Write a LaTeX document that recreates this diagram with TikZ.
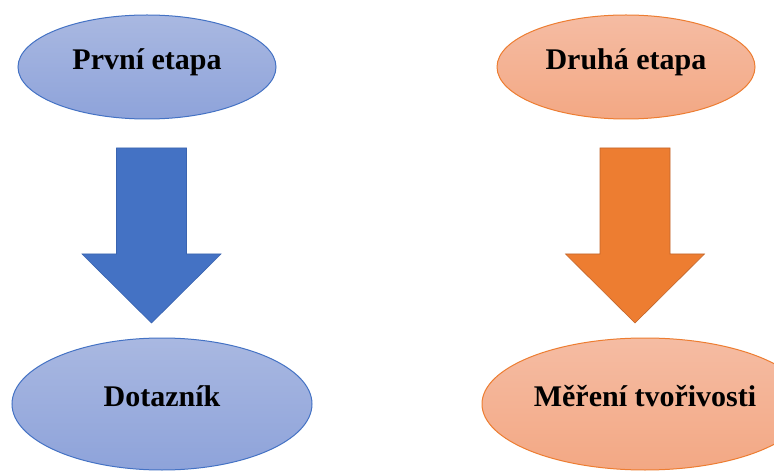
\documentclass[tikz,border=0pt]{standalone}
\usepackage{fontspec}
\setmainfont{Liberation Serif}
\usetikzlibrary{shapes.geometric}
\definecolor{bluefill}{HTML}{4472C4}
\definecolor{blueline}{HTML}{3A64B0}
\definecolor{bluetop}{HTML}{A9B8E1}
\definecolor{bluebot}{HTML}{8EA3DA}
\definecolor{orfill}{HTML}{ED7D31}
\definecolor{orline}{HTML}{C2652A}
\definecolor{ortop}{HTML}{F5BCA3}
\definecolor{orbot}{HTML}{F3A884}
\tikzset{
  stage/.style={ellipse, inner sep=0pt, line width=1pt,
    font=\fontsize{30}{34}\selectfont\bfseries,
    text height=0.7em, text depth=0.22em},
  bluestage/.style={stage, draw=bluefill, top color=bluetop, bottom color=bluebot},
  orstage/.style={stage, draw=orfill, top color=ortop, bottom color=orbot},
  blockarrow/.pic={
    \path[pic actions] (-35,0) -- (35,0) -- (35,106) -- (69.5,106) -- (0,175)
      -- (-69.5,106) -- (-35,106) -- cycle;
  }
}
\begin{document}
\begin{tikzpicture}[x=1pt,y=-1pt]
\useasboundingbox (0,0) rectangle (774,473);
\clip (0,0) rectangle (774,473);
\fill[white] (0,0) rectangle (774,473);

\node[bluestage, minimum width=258pt, minimum height=104pt] (e1) at (147,67) {První etapa};
\node[orstage, minimum width=258pt, minimum height=104pt] (e2) at (626,67) {Druhá etapa};
\node[bluestage, minimum width=300pt, minimum height=132pt] (e3) at (162,404) {Dotazník};
\node[orstage, minimum width=326pt, minimum height=132pt] (e4) at (645,404) {Měření tvořivosti};

\coordinate (a1) at (151.5,148);
\coordinate (a2) at (635,148);
\pic[fill=bluefill, draw=blueline, line width=0.6pt] at (a1) {blockarrow};
\pic[fill=orfill, draw=orline, line width=0.6pt] at (a2) {blockarrow};
\end{tikzpicture}
\end{document}
